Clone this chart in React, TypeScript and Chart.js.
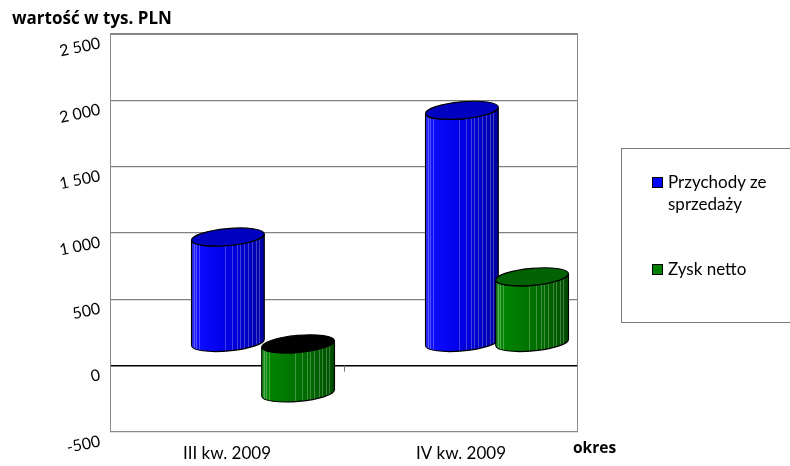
import React, { useEffect, useRef } from 'react';
import { Chart, registerables } from 'chart.js';

Chart.register(...registerables);

// ---- data ----
const categories = ['III kw. 2009', 'IV kw. 2009'];
const przychody = [800, 1755];
const zysk = [-375, 500];
const seriesNames = ['Przychody ze sprzedaży', 'Zysk netto'];
const yMin = -500;
const yMax = 2500;
const yStep = 500;
const yAxisTitle = 'wartość w tys. PLN';
const xAxisTitle = 'okres';

// ---- style ----
const FONT = 'Lato, "Noto Sans", sans-serif';
const BOLD_FONT = '"Open Sans", Lato, sans-serif';
const DEPTH_DX = 36;
const DEPTH_DY = -22.5;
const RY = 8.5;
const TILT = -0.09;

type Pal = { stops: string[]; cap: string; legend: string };
const palettes: Pal[] = [
  { stops: ['#3434ff', '#0c0cff', '#0000ea', '#0000c8', '#0000a0'], cap: '#0000c0', legend: '#0000ff' },
  { stops: ['#2c9a2c', '#008400', '#007400', '#006200', '#004c00'], cap: '#006200', legend: '#008000' },
];
const STOP_POS = [0, 0.1, 0.45, 0.75, 1];
const STRIPES = [0.03, 0.06, 0.1, 0.46, 0.55, 0.62, 0.66, 0.72, 0.78, 0.83, 0.88, 0.93];

function drawCylinder(ctx: CanvasRenderingContext2D, cx: number, yVal: number, yBase: number, rx: number, pal: Pal, negative: boolean) {
  const top = Math.min(yVal, yBase);
  const bottom = Math.max(yVal, yBase);
  const c = Math.cos(TILT);
  const s = Math.sin(TILT);
  const body = () => {
    ctx.beginPath();
    ctx.moveTo(cx - rx * c, top - rx * s);
    ctx.lineTo(cx - rx * c, bottom - rx * s);
    ctx.ellipse(cx, bottom, rx, RY, TILT, Math.PI, 0, true);
    ctx.lineTo(cx + rx * c, top + rx * s);
    ctx.ellipse(cx, top, rx, RY, TILT, 0, Math.PI, false);
    ctx.closePath();
  };
  ctx.save();
  const g = ctx.createLinearGradient(cx - rx, 0, cx + rx, 0);
  pal.stops.forEach((col, k) => g.addColorStop(STOP_POS[k], col));
  body();
  ctx.fillStyle = g;
  ctx.fill();
  ctx.save();
  ctx.clip();
  ctx.strokeStyle = 'rgba(255,255,255,0.25)';
  ctx.lineWidth = 1;
  STRIPES.forEach((f) => {
    const x = Math.round(cx - rx + f * 2 * rx) + 0.5;
    ctx.beginPath();
    ctx.moveTo(x, top - RY - 5);
    ctx.lineTo(x, bottom + RY + 5);
    ctx.stroke();
  });
  ctx.restore();
  body();
  ctx.strokeStyle = '#000';
  ctx.lineWidth = 1.2;
  ctx.stroke();
  ctx.beginPath();
  ctx.ellipse(cx, top, rx, RY, TILT, 0, Math.PI * 2);
  ctx.fillStyle = negative ? '#000000' : pal.cap;
  ctx.fill();
  ctx.stroke();
  ctx.restore();
}

const cylinderPlugin = {
  id: 'cylinders',
  beforeDatasetsDraw(chart: any) {
    const { ctx, chartArea: a } = chart;
    ctx.save();
    ctx.strokeStyle = '#8a8a8a';
    ctx.lineWidth = 1;
    ctx.strokeRect(a.left + 0.5, a.top + 0.5, a.right - a.left - 1, a.bottom - a.top - 1);
    // small category tick on the zero line between categories
    const xs = chart.scales.x;
    const ys = chart.scales.y;
    const tx = Math.round(xs.getPixelForValue(0.5)) + 0.5;
    const ty = ys.getPixelForValue(0);
    ctx.strokeStyle = '#777';
    ctx.beginPath();
    ctx.moveTo(tx, ty);
    ctx.lineTo(tx, ty + 6);
    ctx.stroke();
    ctx.restore();
  },
  afterDatasetsDraw(chart: any) {
    const ctx = chart.ctx;
    chart.data.datasets.forEach((ds: any, di: number) => {
      const meta = chart.getDatasetMeta(di);
      meta.data.forEach((bar: any, i: number) => {
        const p = bar.getProps(['x', 'y', 'base', 'width'], true);
        drawCylinder(ctx, p.x + DEPTH_DX, p.y + DEPTH_DY, p.base + DEPTH_DY, (p.width * 1.04) / 2, palettes[di], ds.data[i] < 0);
      });
    });
  },
};

function fmt(v: number) {
  const sign = v < 0 ? '-' : '';
  const a = Math.abs(v).toString();
  return sign + a.replace(/\B(?=(\d{3})+(?!\d))/g, ' ');
}

export default function App() {
  const ref = useRef<HTMLCanvasElement | null>(null);
  useEffect(() => {
    if (!ref.current) return;
    const chart = new Chart(ref.current, {
      type: 'bar',
      data: {
        labels: categories,
        datasets: [
          { label: seriesNames[0], data: przychody, backgroundColor: 'rgba(0,0,0,0)', borderWidth: 0 },
          { label: seriesNames[1], data: zysk, backgroundColor: 'rgba(0,0,0,0)', borderWidth: 0 },
        ],
      },
      options: {
        animation: false,
        responsive: false,
        layout: { padding: { left: 0, top: 34, right: 212, bottom: 0 } },
        datasets: { bar: { categoryPercentage: 0.6, barPercentage: 1 } } as any,
        plugins: { legend: { display: false }, tooltip: { enabled: false }, title: { display: false } },
        scales: {
          x: {
            grid: { display: false, drawTicks: false },
            border: { display: false },
            ticks: { color: '#000', font: { family: FONT, size: 17 }, padding: 11 },
            afterFit: (s: any) => { s.height = 34; },
          },
          y: {
            min: yMin,
            max: yMax,
            grid: {
              drawTicks: false,
              color: (c: any) => (c.tick && c.tick.value === 0 ? '#000' : '#808080'),
              lineWidth: (c: any) => (c.tick && c.tick.value === 0 ? 1.4 : 1.2),
            },
            border: { display: false },
            ticks: {
              stepSize: yStep,
              color: '#000',
              font: { family: FONT, size: 16 },
              padding: 10,
              minRotation: 12,
              maxRotation: 12,
              labelOffset: 9,
              callback: (v: any) => fmt(Number(v)),
            },
            afterFit: (s: any) => { s.width = 110; },
          },
        },
      },
      plugins: [cylinderPlugin],
    });
    return () => chart.destroy();
  }, []);

  const legendTops = [171, 258];
  return (
    <div style={{ position: 'absolute', left: 0, top: 0, width: 790, height: 466, overflow: 'hidden', background: '#fff', fontFamily: FONT, color: '#000' }}>
      <canvas ref={ref} width={790} height={466} style={{ position: 'absolute', left: 0, top: 0, width: 790, height: 466 }} />
      <div style={{ position: 'absolute', left: 12, top: 8, fontFamily: BOLD_FONT, fontWeight: 700, fontSize: 17, lineHeight: '20px', whiteSpace: 'nowrap' }}>{yAxisTitle}</div>
      <div style={{ position: 'absolute', left: 573, top: 436, fontFamily: BOLD_FONT, fontWeight: 700, fontSize: 15.5, lineHeight: '22px' }}>{xAxisTitle}</div>
      <div style={{ position: 'absolute', left: 621, top: 148, width: 220, height: 175, border: '1px solid #7a7a7a', boxSizing: 'border-box' }} />
      {seriesNames.map((name, i) => (
        <React.Fragment key={name}>
          <div style={{ position: 'absolute', left: 652, top: legendTops[i] + 6, width: 11, height: 11, background: palettes[i].legend, border: '1px solid #000', boxSizing: 'border-box' }} />
          <div style={{ position: 'absolute', left: 668, top: legendTops[i], width: 114, fontSize: 17, lineHeight: '22px' }}>{name}</div>
        </React.Fragment>
      ))}
    </div>
  );
}
